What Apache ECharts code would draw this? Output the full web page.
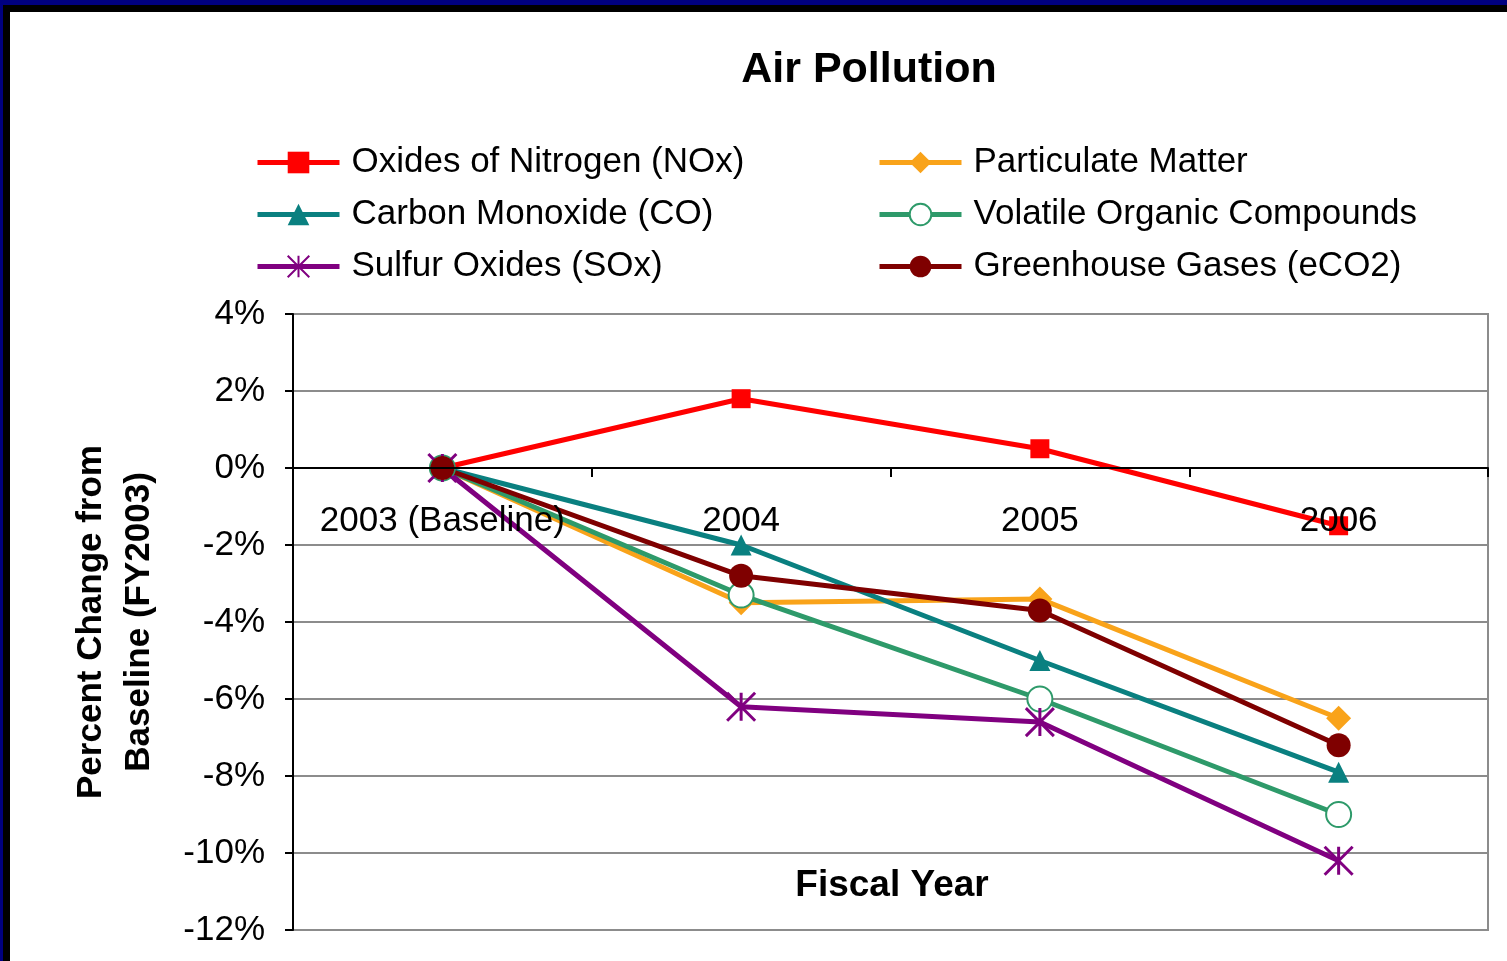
<!DOCTYPE html>
<html>
<head>
<meta charset="utf-8">
<title>Air Pollution</title>
<script src="https://cdn.jsdelivr.net/npm/echarts@6/dist/echarts.min.js"></script>
<style>
  html, body { margin: 0; padding: 0; background: #fff; }
  .edge { position: absolute; }
  #chart { position: absolute; left: 0; top: 0; width: 1507px; height: 961px; }
</style>
</head>
<body>
<!-- slide frame: navy band plus black shadow line -->
<div class="edge" style="left:0;top:0;width:1507px;height:5px;background:#000080"></div>
<div class="edge" style="left:0;top:5px;width:1507px;height:7px;background:#000"></div>
<div class="edge" style="left:0;top:0;width:3px;height:961px;background:#000080"></div>
<div class="edge" style="left:3px;top:5px;width:7px;height:956px;background:#000"></div>
<div id="chart"></div>
<script>
// 数据
const years = ['2003 (Baseline)', '2004', '2005', '2006'];
const noxValues = [0, 1.8, 0.5, -1.5];
const coValues = [0, -2.0, -5.0, -7.9];
const soxValues = [0, -6.2, -6.6, -10.2];
const pmValues = [0, -3.5, -3.4, -6.5];
const vocValues = [0, -3.3, -6.0, -9.0];
const ghgValues = [0, -2.8, -3.7, -7.2];

const yMin = -12;
const yMax = 4;

const font = '"Liberation Sans", Arial, sans-serif';
const asterisk = 'path://M0,0L20,20M20,0L0,20M10,0L10,20';

// plot box (pixels)
const plotTop = 314;
const plotBottom = 31;
const plotHeight = 961 - plotTop - plotBottom;
// category axis sits on the 0% line
const zeroOffset = -plotHeight * (0 - yMin) / (yMax - yMin);

function makeSeries(name, values, color, symbol, size, extra) {
  return Object.assign({
    name: name,
    type: 'line',
    data: values,
    symbol: symbol,
    symbolSize: size,
    z: 3,
    lineStyle: { color: color, width: 5 },
    itemStyle: { color: color }
  }, extra || {});
}

const chart = echarts.init(document.getElementById('chart'), null, { renderer: 'canvas' });

const legendText = { fontFamily: font, fontSize: 35, color: '#000', padding: [0, 0, 0, 7] };

const option = {
  backgroundColor: 'transparent',
  animation: false,
  title: [{
    text: 'Air Pollution',
    left: 864,
    top: 44,
    textAlign: 'center',
    textStyle: { fontFamily: font, fontWeight: 'bold', fontSize: 43, color: '#000' }
  }, {
    text: 'Fiscal Year',
    left: 887,
    top: 862,
    textAlign: 'center',
    textStyle: { fontFamily: font, fontWeight: 'bold', fontSize: 37, color: '#000' }
  }],
  legend: [{
    data: ['Oxides of Nitrogen (NOx)', 'Carbon Monoxide (CO)', 'Sulfur Oxides (SOx)'],
    orient: 'vertical',
    left: 250,
    top: 140,
    itemWidth: 82,
    itemHeight: 27,
    itemGap: 17,
    lineStyle: { width: 5 },
    textStyle: legendText
  }, {
    data: ['Particulate Matter', 'Volatile Organic Compounds', 'Greenhouse Gases (eCO2)'],
    orient: 'vertical',
    left: 872,
    top: 140,
    itemWidth: 82,
    itemHeight: 27,
    itemGap: 17,
    lineStyle: { width: 5 },
    textStyle: legendText
  }],
  grid: {
    left: 293,
    right: 19,
    top: plotTop,
    bottom: plotBottom,
    outerBoundsMode: 'none',
    containLabel: false,
    show: true,
    borderColor: '#8c8c8c',
    borderWidth: 2,
    backgroundColor: 'transparent'
  },
  xAxis: {
    type: 'category',
    data: years,
    position: 'bottom',
    offset: zeroOffset,
    z: 5,
    axisLine: { onZero: false, lineStyle: { color: '#000', width: 2 } },
    axisTick: { show: true, interval: 0, length: 9, lineStyle: { color: '#000', width: 2 } },
    axisLabel: { interval: 0, fontFamily: font, fontSize: 35, color: '#000', margin: 36 },
    splitLine: { show: false }
  },
  yAxis: {
    type: 'value',
    min: yMin,
    max: yMax,
    interval: 2,
    name: 'Percent Change from\nBaseline (FY2003)',
    nameLocation: 'middle',
    nameRotate: 90,
    nameGap: 130,
    nameMoveOverlap: false,
    nameTextStyle: { fontFamily: font, fontWeight: 'bold', fontSize: 35, lineHeight: 48, color: '#000' },
    axisLine: { show: true, lineStyle: { color: '#000', width: 2 } },
    axisTick: { show: true, length: 8, lineStyle: { color: '#000', width: 2 } },
    axisLabel: { fontFamily: font, fontSize: 35, color: '#000', margin: 28, formatter: '{value}%' },
    splitLine: { lineStyle: { color: '#8c8c8c', width: 2 } }
  },
  series: [
    makeSeries('Oxides of Nitrogen (NOx)', noxValues, '#ff0000', 'rect', 19),
    makeSeries('Particulate Matter', pmValues, '#f9a31a', 'diamond', 25),
    makeSeries('Carbon Monoxide (CO)', coValues, '#0a8080', 'triangle', 21),
    makeSeries('Volatile Organic Compounds', vocValues, '#2e9a6a', 'emptyCircle', 25, {
      itemStyle: { color: '#2e9a6a', borderColor: '#2e9a6a', borderWidth: 3 }
    }),
    makeSeries('Sulfur Oxides (SOx)', soxValues, '#800080', asterisk, 28, {
      itemStyle: { color: '#800080', borderColor: '#800080', borderWidth: 3 }
    }),
    makeSeries('Greenhouse Gases (eCO2)', ghgValues, '#7f0000', 'circle', 24)
  ]
};

chart.setOption(option);
</script>
</body>
</html>
